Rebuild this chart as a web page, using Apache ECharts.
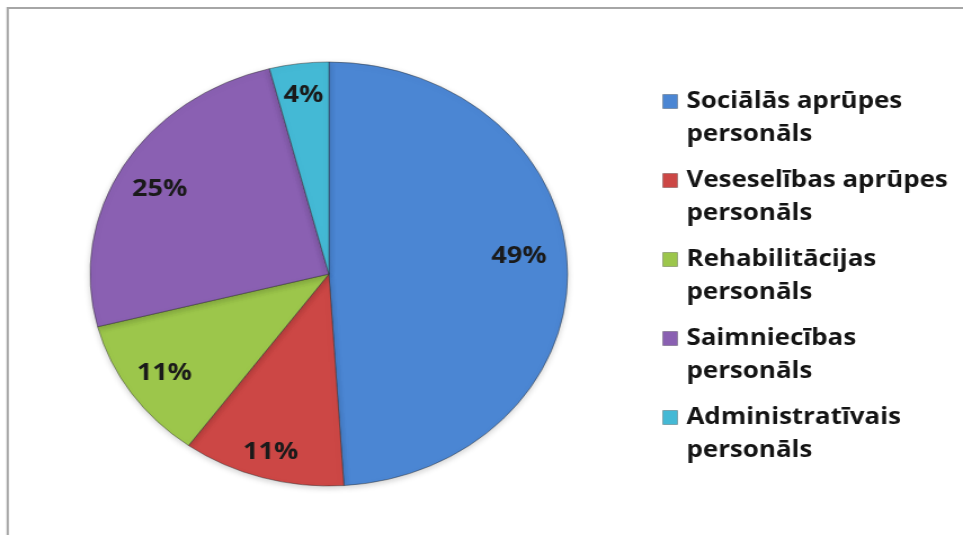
<!DOCTYPE html>
<html><head><meta charset="utf-8">
<script src="https://cdn.jsdelivr.net/npm/echarts@6/dist/echarts.min.js"></script>
<style>
html,body{margin:0;padding:0;overflow:hidden;background:#fff;width:963px;height:535px}
#wrap{width:963px;height:535px;overflow:hidden;position:relative}
#c{width:855px;height:535px;transform:scaleX(1.1263);transform-origin:0 0;}
</style></head><body><div id="wrap"><div id="c"></div></div>
<script>
const categories = ['Sociālās aprūpes\npersonāls', 'Veseselības aprūpes\npersonāls', 'Rehabilitācijas\npersonāls', 'Saimniecības\npersonāls', 'Administratīvais\npersonāls'];
const values = [49, 11, 11, 25, 4];
const colors = ['#4b86d3', '#cc4745', '#9cc64b', '#8a60b2', '#44b9d5'];

const cx = 292, cy = 274, R = 212;
const labelK = [0.55, 0.7, 0.62, 0.6, 0.65];
const chart = echarts.init(document.getElementById('c'));
chart.setOption({
  animation: false,
  color: colors,
  graphic: [{
    type: 'rect', shape: {x: 6.8, y: 8, width: 1000, height: 700},
    style: {fill: 'none', stroke: '#a6a6a6', lineWidth: 2}, silent: true
  }],
  legend: {
    orient: 'vertical', left: 583, top: 47,
    itemWidth: 13, itemHeight: 14, itemGap: -20,
    icon: 'rect',
    formatter: name => '\n' + name,
    textStyle: {fontFamily: 'Open Sans', fontWeight: 'bold', fontSize: 23, color: '#141414',
      lineHeight: 33, padding: [0, 0, 0, 3]},
    itemStyle: {borderColor: 'rgba(0,0,0,0.25)', borderWidth: 1}
  },
  series: [{
    type: 'pie', center: [cx, cy], radius: R, startAngle: 90, clockwise: true,
    data: categories.map((n, i) => ({name: n, value: values[i]})),
    itemStyle: {borderColor: 'rgba(40,40,40,0.45)', borderWidth: 1,
      shadowBlur: 6, shadowColor: 'rgba(0,0,0,0.2)', shadowOffsetY: 2},
    label: {show: true, position: 'inside', formatter: '{c}%', fontFamily: 'Open Sans',
      fontWeight: 'bold', fontSize: 24, color: '#1a1a1a'},
    labelLayout: function (p) {
      const r = p.labelRect; const lx = r.x + r.width / 2, ly = r.y + r.height / 2;
      const k = labelK[p.dataIndex];
      return {dx: (lx - cx) * k, dy: (ly - cy) * k + (p.dataIndex === 0 ? -13 : (p.dataIndex === 3 ? 4 : 0))};
    },
    emphasis: {disabled: true}
  }]
});
</script></body></html>
